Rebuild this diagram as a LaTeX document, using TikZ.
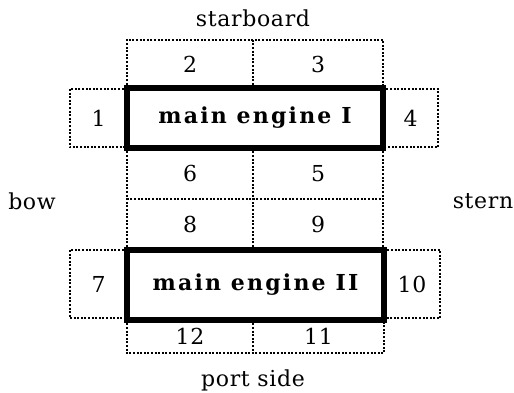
\documentclass[tikz,border=0pt]{standalone}
\usepackage{fontspec}
\setmainfont{DejaVu Serif}[LetterSpace=3]
\newfontfamily\enginefont{DejaVu Serif}[LetterSpace=10]
\begin{document}
\begin{tikzpicture}[x=1pt,y=-1pt,
  cell/.style={inner sep=0pt, font=\fontsize{22}{26}\selectfont},
  wall/.style={line width=2pt, dash pattern=on 2pt off 1.6pt},
  engine/.style={draw, line width=6.5pt, inner sep=0pt,
    font=\fontsize{22}{26}\selectfont\enginefont\bfseries},
  side/.style={inner sep=0pt, font=\fontsize{22}{26}\selectfont}]
\useasboundingbox (0,0) rectangle (514,393);
% compartment spanning (x1,y1)-(x2,y2); its walls are drawn afterwards
\newcommand{\cellnode}[6]{%
  \node[cell, minimum width={#4-#2}, minimum height={#5-#3}]
    (#1) at ({(#2+#4)/2},{(#3+#5)/2}) {#6};}
% engine I compartments
\cellnode{c2}{127}{40}{253}{88}{2}
\cellnode{c3}{253}{40}{383}{88}{3}
\cellnode{c1}{70}{89}{127}{147}{1}
\cellnode{c4}{383}{89}{438}{147}{4}
\cellnode{c6}{127}{148}{253}{199}{6}
\cellnode{c5}{253}{148}{383}{199}{5}
% engine II compartments
\cellnode{c8}{127}{199}{253}{250}{8}
\cellnode{c9}{253}{199}{383}{250}{9}
\cellnode{c7}{70}{250}{127}{318}{7}
\cellnode{c10}{384}{250}{440}{318}{10}
\cellnode{c12}{127}{320}{253}{353}{12}
\cellnode{c11}{253}{320}{384}{353}{11}
% dotted compartment walls, each drawn once
\draw[wall] (c2.south west) -- (c2.north west) -- (c3.north east) -- (c3.south east);
\draw[wall] (c2.north east) -- (c2.south east);
\draw[wall] (c1.north east) -- (c1.north west) -- (c1.south west) -- (c1.south east);
\draw[wall] (c4.north west) -- (c4.north east) -- (c4.south east) -- (c4.south west);
\draw[wall] (c6.north west) -- (c8.south west);
\draw[wall] (c6.north east) -- (c8.south east);
\draw[wall] (c5.north east) -- (c9.south east);
\draw[wall] (c6.south west) -- (c5.south east);
\draw[wall] (c7.north east) -- (c7.north west) -- (c7.south west) -- (c7.south east);
\draw[wall] (c10.north west) -- (c10.north east) -- (c10.south east) -- (c10.south west);
\draw[wall] (c12.north west) -- (c12.south west) -- (c11.south east) -- (c11.north east);
\draw[wall] (c12.north east) -- (c12.south east);
% the two engines
\node[engine, minimum width=256pt, minimum height=60pt] (e1) at (255,118) {main engine I};
\node[engine, minimum width=257pt, minimum height=70pt] (e2) at (255.5,285) {main engine II};
% ship orientation
\node[side] (stb) at (253,18) {starboard};
\node[side] (port) at (253,380) {port side};
\node[side] (bow) at (32,201) {bow};
\node[side] (stern) at (483,201) {stern};
\end{tikzpicture}
\end{document}
